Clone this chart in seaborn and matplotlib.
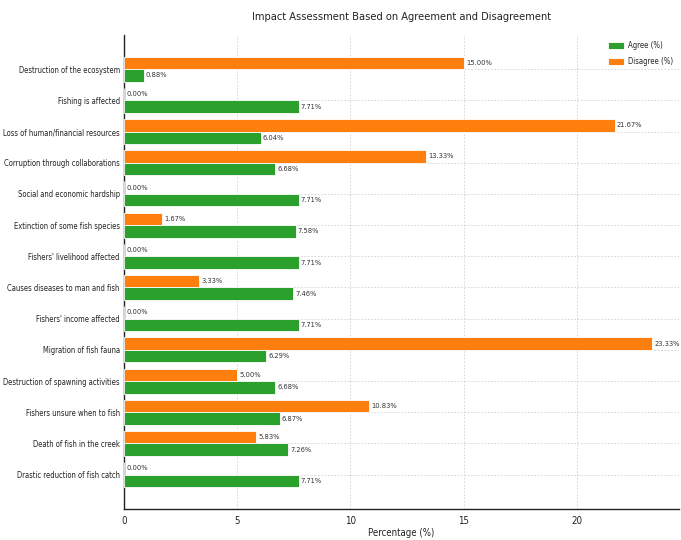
import dataclasses
import matplotlib
matplotlib.use("Agg")
import matplotlib.pyplot as plt
from matplotlib import font_manager as fm
import pandas as pd
import seaborn as sns

categories = [
    "Destruction of the ecosystem",
    "Fishing is affected",
    "Loss of human/financial resources",
    "Corruption through collaborations",
    "Social and economic hardship",
    "Extinction of some fish species",
    "Fishers' livelihood affected",
    "Causes diseases to man and fish",
    "Fishers' income affected",
    "Migration of fish fauna",
    "Destruction of spawning activities",
    "Fishers unsure when to fish",
    "Death of fish in the creek",
    "Drastic reduction of fish catch",
]
agree = [0.88, 7.71, 6.04, 6.68, 7.71, 7.58, 7.71, 7.46, 7.71, 6.29, 6.68, 6.87, 7.26, 7.71]
disagree = [15.00, 0.00, 21.67, 13.33, 0.00, 1.67, 0.00, 3.33, 0.00, 23.33, 5.00, 10.83, 5.83, 0.00]
series = ["Agree (%)", "Disagree (%)"]
colors = {"Agree (%)": "#2ca02c", "Disagree (%)": "#ff7f0e"}

df = pd.DataFrame({
    "Statement": categories * 2,
    "Percentage": agree + disagree,
    "Response": [series[0]] * len(categories) + [series[1]] * len(categories),
})

# Register the condensed DejaVu face under its own family name
for entry in list(fm.fontManager.ttflist):
    if entry.fname.endswith("DejaVuSansCondensed.ttf"):
        fm.fontManager.ttflist.append(dataclasses.replace(entry, name="DejaVu Sans Cond"))
if hasattr(fm, "_findfont_cached"):
    fm._findfont_cached.cache_clear()

sns.set_style("white")
plt.rcParams["font.family"] = ["DejaVu Sans Cond", "DejaVu Sans"]

fig = plt.figure(figsize=(6.81, 5.40), dpi=100)
ax = fig.add_axes([0.182, 0.058, 0.815, 0.877])

# Disagree first so it sits above Agree within each group
sns.barplot(data=df, y="Statement", x="Percentage", hue="Response",
            hue_order=[series[1], series[0]], palette=colors, orient="h",
            order=categories, width=0.8, ax=ax, errorbar=None,
            saturation=1, edgecolor="white", linewidth=0.6, zorder=3)

for cont in ax.containers:
    ax.bar_label(cont, labels=[f"{v:.2f}%" for v in cont.datavalues],
                 padding=1.5, fontsize=5.4, color="#333333")

ax.set_xlim(0, 24.5)
ax.set_ylim(len(categories) - 0.5 + 0.59, -0.5 - 0.59)
ax.set_ylabel("")
ax.set_xlabel("Percentage (%)", fontsize=6.9, labelpad=2, color="#222222")
ax.set_title("Impact Assessment Based on Agreement and Disagreement",
             fontsize=7.9, pad=11, color="#222222")
ax.tick_params(axis="y", labelsize=5.5, length=2, pad=1, colors="#222222")
ax.tick_params(axis="x", labelsize=7, length=3, pad=2, colors="#222222")
ax.grid(True, linestyle=(0, (2, 2)), color="#d0d0d0", linewidth=0.6, zorder=0)
ax.set_axisbelow(True)
for side in ["top", "right"]:
    ax.spines[side].set_visible(False)
for side in ["left", "bottom"]:
    ax.spines[side].set_color("#222222")
    ax.spines[side].set_linewidth(1.0)

handles, labels = ax.get_legend_handles_labels()
order = [labels.index(s) for s in series]
ax.legend([handles[i] for i in order], [labels[i] for i in order],
          loc="upper right", fontsize=5.6, frameon=False,
          handlelength=2.0, handleheight=0.9, handletextpad=0.5,
          labelspacing=0.9, borderaxespad=0.4)

fig.savefig("out.png", dpi=100)
